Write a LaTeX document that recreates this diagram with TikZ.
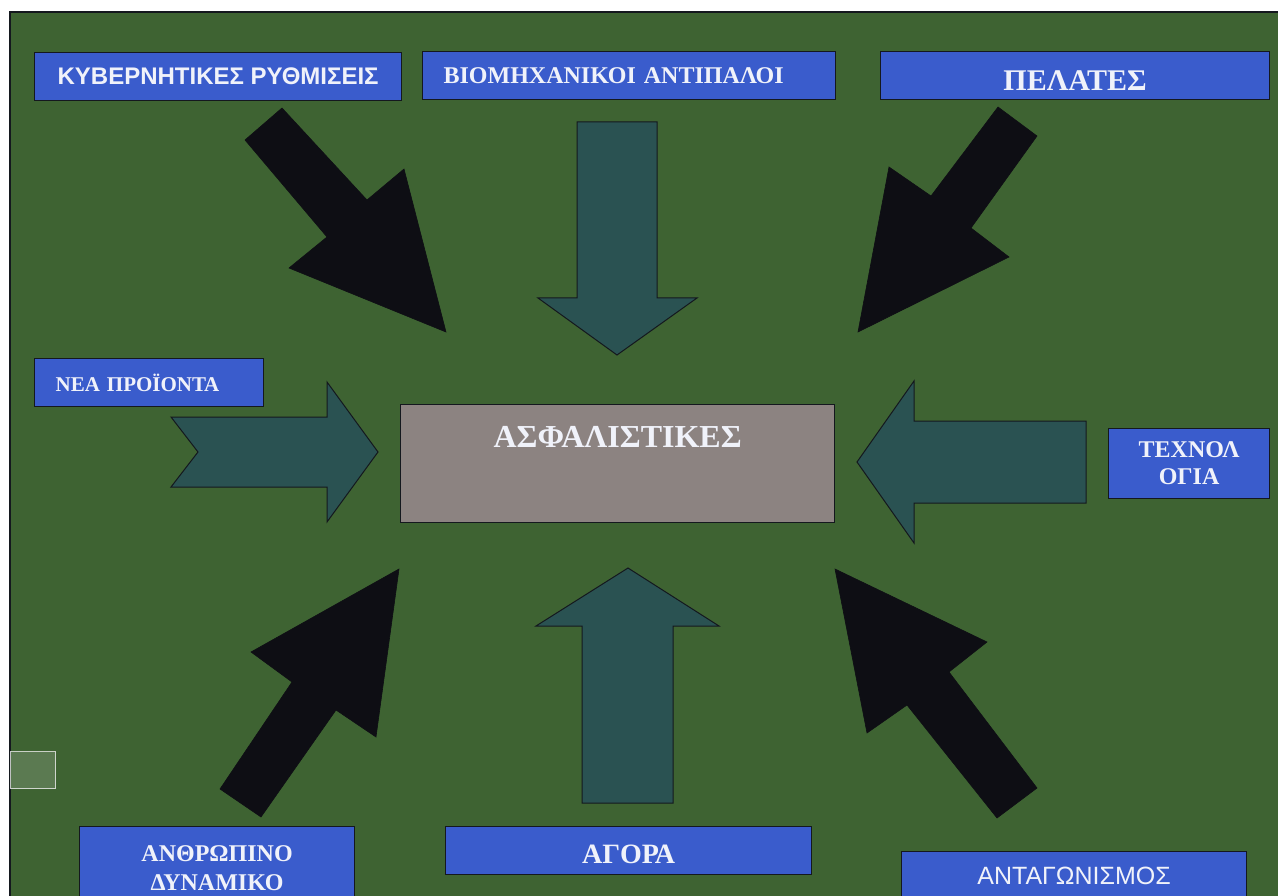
\documentclass[tikz,border=0pt]{standalone}
\usepackage{fontspec}
\setmainfont{Liberation Serif}
\newfontfamily\sansgr{Liberation Sans}
\definecolor{bggreen}{RGB}{62,99,50}
\definecolor{boxblue}{RGB}{58,92,204}
\definecolor{centergray}{RGB}{140,131,129}
\definecolor{tealarrow}{RGB}{42,82,82}
\definecolor{blackarrow}{RGB}{14,14,20}
\definecolor{edgedark}{RGB}{20,24,30}
\definecolor{textwhite}{RGB}{240,242,250}
\newcommand{\fsz}[1]{\fontsize{#1}{#1}\selectfont}
\tikzset{
  box/.style={draw=edgedark, line width=1.2pt, fill=boxblue, text=textwhite,
    inner sep=0pt, anchor=north west, align=center},
  serifb/.style={font=\bfseries\fsz{#1}},
  sansb/.style={font=\sansgr\bfseries\fsz{#1}},
  sansr/.style={font=\sansgr\fsz{#1}},
  blockblack/.style={fill=blackarrow, draw=blackarrow, line width=0.6pt, line join=miter},
  blockteal/.style={fill=tealarrow, draw=edgedark, line width=1pt, line join=miter},
}
\begin{document}
\begin{tikzpicture}[x=1pt,y=-1pt]
\useasboundingbox (0,0) rectangle (1278,896);
\clip (0,0) rectangle (1278,896);
\fill[white] (0,0) rectangle (1278,896);
\filldraw[fill=bggreen, draw=edgedark, line width=1.2pt] (10,12) rectangle (1290,910);

% boxes
\node[box, sansb=24, minimum width=367, minimum height=48] (gov) at (34,52) {ΚΥΒΕΡΝΗΤΙΚΕΣ ΡΥΘΜΙΣΕΙΣ};
\node[box, serifb=24, minimum height=48, text width=371, inner xsep=21, align=left] (ind) at (422,51) {ΒΙΟΜΗΧΑΝΙΚΟΙ ΑΝΤΙΠΑΛΟΙ};
\node[box, serifb=30, minimum width=389, minimum height=48, text height=29.8, text depth=0] (cli) at (880,51) {ΠΕΛΑΤΕΣ};
\node[box, serifb=21, minimum height=48, text width=187, inner xsep=21, align=left] (new) at (34,358) {ΝΕΑ ΠΡΟΪΟΝΤΑ};
\node[box, font=\bfseries\fontsize{24}{27}\selectfont, minimum width=161, minimum height=70] (tech) at (1108,428) {ΤΕΧΝΟΛ\\ΟΓΙΑ};
\node[box, font=\bfseries\fontsize{24}{29}\selectfont, minimum width=275, minimum height=83] (hum) at (79,826) {ΑΝΘΡΩΠΙΝΟ\\ΔΥΝΑΜΙΚΟ};
\node[box, serifb=28, minimum width=366, minimum height=48, text height=26.5, text depth=0] (mkt) at (445,826) {ΑΓΟΡΑ};
\node[box, sansr=25, minimum width=345, minimum height=48] (comp) at (901,851) {ΑΝΤΑΓΩΝΙΣΜΟΣ};

% centre
\node[draw=edgedark, line width=1.2pt, fill=centergray, anchor=north west,
      minimum width=434, minimum height=118, inner sep=0pt] (ins) at (400,404) {};
\node[serifb=32, text=textwhite, inner sep=0pt] (instext) at ([yshift=-33]ins.north) {ΑΣΦΑΛΙΣΤΙΚΕΣ};

% small square
\node[draw=white!85!gray, draw opacity=0.8, fill=bggreen!85!white, line width=1pt,
      anchor=north west, minimum width=45, minimum height=37, inner sep=0pt] (sq) at (10,751) {};

% black diagonal block arrows
\path[blockblack] (245,140) -- (282,108) -- (367,200) -- (404,169) -- (446,332) -- (289,268) -- (327,237) -- cycle;
\path[blockblack] (998,107) -- (1037,136) -- (971,228) -- (1009,257) -- (858,332) -- (889,167) -- (931,196) -- cycle;
\path[blockblack] (399,569) -- (376,737) -- (336,710) -- (261,817) -- (220,789) -- (292,682) -- (251,652) -- cycle;
\path[blockblack] (835,569) -- (987,642) -- (949,672) -- (1037,788) -- (997,818) -- (907,705) -- (867,733) -- cycle;

% teal block arrows
\path[blockteal] (577,122) -- (657,122) -- (657,298) -- (697,298) -- (617,355) -- (538,298) -- (577,298) -- cycle;
\path[blockteal] (628,568) -- (719,626) -- (673,626) -- (673,803) -- (582,803) -- (582,626) -- (536,626) -- cycle;
\path[blockteal] (171,417) -- (327,417) -- (327,382) -- (378,452) -- (327,522) -- (327,487) -- (171,487) -- (198,452) -- cycle;
\path[blockteal] (857,462) -- (914,381) -- (914,421) -- (1086,421) -- (1086,503) -- (914,503) -- (914,543) -- cycle;
\end{tikzpicture}
\end{document}
